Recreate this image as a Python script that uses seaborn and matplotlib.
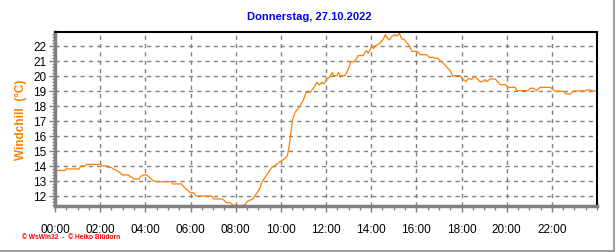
import matplotlib
matplotlib.use("Agg")
import matplotlib.pyplot as plt
import seaborn as sns
import pandas as pd
import numpy as np
from matplotlib.ticker import MultipleLocator, FixedLocator
from matplotlib.lines import Line2D

hours = [0.00, 0.45, 0.50, 1.08, 1.13, 1.33, 1.38, 2.04, 2.10, 2.30, 2.35, 2.50,
         2.58, 2.73, 2.88, 2.98, 3.25, 3.32, 3.40, 3.47, 3.73, 3.79, 3.91, 4.06,
         4.21, 4.35, 4.50, 5.17, 5.21, 5.61, 5.68, 5.80, 5.90, 5.98, 6.12, 6.20,
         6.27, 6.94, 7.01, 7.38, 7.50, 7.57, 7.75, 7.82, 7.90, 8.12, 8.16, 8.27,
         8.34, 8.41, 8.49, 8.64, 8.71, 8.78, 8.93, 9.08, 9.15, 9.30, 9.45, 9.60,
         9.74, 9.89, 10.04, 10.19, 10.29, 10.36, 10.44, 10.51, 10.63, 10.78, 10.86,
         11.00, 11.12, 11.30, 11.38, 11.47, 11.59, 11.71, 11.81, 11.90, 12.03, 12.15,
         12.28, 12.33, 12.48, 12.55, 12.62, 12.84, 12.92, 13.03, 13.10, 13.25, 13.43,
         13.65, 13.73, 13.80, 13.86, 14.03, 14.10, 14.18, 14.39, 14.54, 14.63, 14.70,
         14.81, 14.91, 15.06, 15.13, 15.25, 15.35, 15.45, 15.57, 15.69,
         15.80, 16.02, 16.10, 16.16, 16.46, 16.58, 16.76, 16.80, 16.95, 17.05, 17.20,
         17.35, 17.50, 17.61, 17.72, 17.94, 18.01, 18.20, 18.30, 18.45, 18.56, 18.68,
         18.82, 18.93, 19.04, 19.10, 19.27, 19.49, 19.63, 19.71, 19.93, 20.07, 20.37,
         20.45, 20.96, 21.04, 21.18, 21.33, 21.48, 21.92, 22.03, 22.14, 22.51, 22.63,
         22.84, 22.95, 23.47, 23.55, 23.70, 23.78, 24.00]
windchill = [13.70, 13.70, 13.80, 13.80, 14.00, 14.00, 14.10, 14.10, 14.00, 14.00, 13.90, 13.90,
             13.80, 13.70, 13.55, 13.40, 13.40, 13.27, 13.27, 13.13, 13.13, 13.30, 13.40, 13.40,
             13.20, 13.02, 12.95, 12.95, 12.80, 12.80, 12.64, 12.47, 12.36, 12.22, 12.22, 12.09,
             12.00, 12.00, 11.80, 11.80, 11.70, 11.55, 11.55, 11.47, 11.38, 11.38, 11.33, 11.33,
             11.40, 11.40, 11.60, 11.73, 11.75, 11.85, 12.18, 12.53, 12.87, 13.24, 13.58, 13.91,
             14.02, 14.20, 14.36, 14.51, 14.69, 15.25, 16.13, 17.02, 17.58, 17.85, 18.02,
             18.40, 18.91, 18.91, 19.07, 19.24, 19.58, 19.40, 19.58, 19.47, 19.80, 19.91,
             20.24, 20.02, 20.02, 20.24, 20.02, 20.02, 20.24, 20.62, 20.96, 20.93, 21.36,
             21.36, 21.58, 21.69, 21.51, 21.96, 21.82, 22.00, 22.18, 22.47, 22.76, 22.55,
             22.40, 22.64, 22.76, 22.66, 22.84, 22.47, 22.45, 22.24, 22.02,
             21.64, 21.64, 21.55, 21.42, 21.42, 21.24, 21.24, 21.18, 21.18, 21.02, 20.84,
             20.58, 20.36, 19.98, 20.02, 20.02, 19.84, 19.62, 19.84, 19.76, 19.98, 19.84,
             19.62, 19.62, 19.76, 19.62, 19.80, 19.80, 19.58, 19.42, 19.42, 19.24, 19.24,
             19.02, 19.02, 19.18, 19.18, 19.02, 19.24, 19.24, 19.13, 18.98, 18.98, 18.80,
             18.80, 19.00, 19.00, 19.07, 19.07, 19.00, 19.00]

x_tick_labels = ["00:00", "02:00", "04:00", "06:00", "08:00", "10:00",
                 "12:00", "14:00", "16:00", "18:00", "20:00", "22:00"]
y_ticks = [12, 13, 14, 15, 16, 17, 18, 19, 20, 21, 22]
title = "Donnerstag, 27.10.2022"
ylabel = "Windchill  (°C)"
footer = "© WsWin32  -  © Heiko Blüdorn"

df = pd.DataFrame({"h": hours, "v": windchill})

sns.set_style("white")
plt.rcParams["font.family"] = ["Liberation Sans", "DejaVu Sans"]

fig = plt.figure(figsize=(6.16, 2.53), dpi=100)
ax = fig.add_axes([55 / 616, 1 - 207 / 253, (597 - 55) / 616, (207 - 33) / 253])

sns.lineplot(data=df, x="h", y="v", ax=ax, color="#FF8000", linewidth=0.9)

ax.set_xlim(0, 24)
ax.set_ylim(11.33, 22.93)
ax.xaxis.set_major_locator(FixedLocator(np.arange(0, 24, 2)))
ax.set_xticklabels(x_tick_labels)
ax.xaxis.set_minor_locator(MultipleLocator(0.5))
ax.yaxis.set_major_locator(FixedLocator(y_ticks))
ax.set_yticklabels([str(t) for t in y_ticks])
ax.yaxis.set_minor_locator(MultipleLocator(0.2))

ax.grid(True, which="major", color="#808080", linestyle=(0, (3, 3)), linewidth=1.0)
ax.set_axisbelow(True)

ax.tick_params(axis="x", which="major", direction="out", length=4, width=1,
               color="#808080", labelsize=8.5, pad=8, labelcolor="black")
ax.tick_params(axis="x", which="minor", direction="out", length=3, width=1,
               color="#808080")
ax.tick_params(axis="y", which="major", direction="out", length=4, width=1,
               color="#808080", labelsize=8.5, pad=2, labelcolor="black")
ax.tick_params(axis="y", which="minor", direction="out", length=2, width=1,
               color="#808080")
ax.xaxis.set_ticks_position("bottom")
ax.yaxis.set_ticks_position("left")

for s in ["left", "bottom"]:
    ax.spines[s].set_color("#808080")
    ax.spines[s].set_linewidth(2.5)
for s in ["top", "right"]:
    ax.spines[s].set_color("black")
    ax.spines[s].set_linewidth(1.5)

ax.set_xlabel("")
ax.set_ylabel(ylabel, color="#FF8000", fontweight="bold", fontsize=8.5)
ax.yaxis.set_label_coords(-28 / 542, 0.5)

fig.text(309 / 616, 1 - 17 / 253, title, color="#0000FF", fontweight="bold",
         fontsize=8, ha="center", va="center")
fig.text(22 / 616, 1 - 238 / 253, footer, color="#FF0000", fontsize=4.8,
         fontweight="bold", ha="left", va="center")

fig.add_artist(Line2D([613.5 / 616, 613.5 / 616], [1 - 252 / 253, 1.0],
                      transform=fig.transFigure, color="#A0A0A0", linewidth=1.5))
fig.add_artist(Line2D([0, 613.5 / 616], [1 - 251.5 / 253, 1 - 251.5 / 253],
                      transform=fig.transFigure, color="#A0A0A0", linewidth=1.5))

fig.savefig("out.png", dpi=100, facecolor="white")
